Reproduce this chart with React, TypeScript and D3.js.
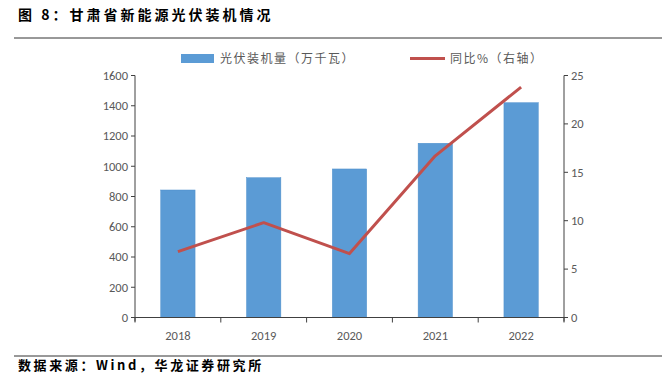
import React from "react";
import * as d3 from "d3";

const years = ["2018", "2019", "2020", "2021", "2022"];
const capacity = [843, 924, 982, 1152, 1420];
const yoy = [6.8, 9.8, 6.6, 16.7, 23.8];
const leftTicks = [0, 200, 400, 600, 800, 1000, 1200, 1400, 1600];
const rightTicks = [0, 5, 10, 15, 20, 25];

const W = 662, H = 375;
const m = { left: 135, right: 564, top: 75.5, bottom: 317.5 };

export default function App() {
  const x = d3.scaleBand().domain(years).range([m.left, m.right]).paddingInner(0.6).paddingOuter(0.3);
  const xb = d3.scaleBand().domain(years).range([m.left, m.right]);
  const yL = d3.scaleLinear().domain([0, 1600]).range([m.bottom, m.top]);
  const yR = d3.scaleLinear().domain([0, 25]).range([m.bottom, m.top]);
  const line = d3.line<number>().x((_, i) => xb(years[i])! + xb.bandwidth() / 2).y((d) => yR(d));
  const axisColor = "#404040";
  const tickColor = "#595959";
  const font = "Calibri, Carlito, 'Liberation Sans', 'Noto Sans', sans-serif";
  const cjk = "'Noto Sans CJK SC', sans-serif";
  const edges = [...years.map((y) => xb(y)!), m.right];
  return (
    <svg width={W} height={H} style={{ position: "absolute", left: 0, top: 0 }}>
      <rect width={W} height={H} fill="#fff" />
      <text x={18} y={20} fontFamily={cjk} fontWeight="bold" fontSize={14} letterSpacing={3} fill="#000">图 8：甘肃省新能源光伏装机情况</text>
      <line x1={14} x2={662} y1={38} y2={38} stroke="#333" strokeWidth={1} />
      <line x1={14} x2={662} y1={356} y2={356} stroke="#333" strokeWidth={1} />
      <text x={18} y={370} fontFamily={cjk} fontWeight="bold" fontSize={13} letterSpacing={2.6} fill="#000">数据来源：Wind，华龙证券研究所</text>

      {/* legend */}
      <rect x={181} y={54} width={33} height={9} fill="#5B9BD5" />
      <text x={220} y={63} fontFamily={cjk} fontSize={12} letterSpacing={1.5} fill="#595959">光伏装机量（万千瓦）</text>
      <line x1={410} x2={445} y1={58.5} y2={58.5} stroke="#C0504D" strokeWidth={3} />
      <text x={450} y={63} fontFamily={cjk} fontSize={12} letterSpacing={1.5} fill="#595959">同比%（右轴）</text>

      {/* bars */}
      {capacity.map((v, i) => (
        <rect key={i} x={x(years[i])} y={yL(v)} width={x.bandwidth()} height={yL(0) - yL(v)} fill="#5B9BD5" stroke="#4F8FCB" strokeWidth={0.5} />
      ))}

      {/* left axis */}
      <line x1={m.left} x2={m.left} y1={m.top} y2={m.bottom + 4} stroke={axisColor} />
      {leftTicks.map((t) => (
        <g key={t}>
          <line x1={m.left - 4} x2={m.left} y1={yL(t)} y2={yL(t)} stroke={axisColor} />
          <text x={m.left - 7} y={yL(t)} dy="0.35em" textAnchor="end" fontFamily={font} fontSize={12.5} fill={tickColor}>{t}</text>
        </g>
      ))}
      {/* right axis */}
      <line x1={m.right} x2={m.right} y1={m.top} y2={m.bottom + 4} stroke={axisColor} />
      {rightTicks.map((t) => (
        <g key={t}>
          <line x1={m.right} x2={m.right + 4} y1={yR(t)} y2={yR(t)} stroke={axisColor} />
          <text x={m.right + 7} y={yR(t)} dy="0.35em" textAnchor="start" fontFamily={font} fontSize={12.5} fill={tickColor}>{t}</text>
        </g>
      ))}
      {/* x axis */}
      <line x1={m.left - 4} x2={m.right + 4} y1={m.bottom} y2={m.bottom} stroke={axisColor} />
      {edges.map((e, i) => (
        <line key={i} x1={e} x2={e} y1={m.bottom} y2={m.bottom + 5} stroke={axisColor} />
      ))}
      {years.map((y) => (
        <text key={y} x={xb(y)! + xb.bandwidth() / 2} y={m.bottom + 22} textAnchor="middle" fontFamily={font} fontSize={12.5} fill={tickColor}>{y}</text>
      ))}

      <path d={line(yoy)!} fill="none" stroke="#C0504D" strokeWidth={3} strokeLinejoin="round" />
    </svg>
  );
}
